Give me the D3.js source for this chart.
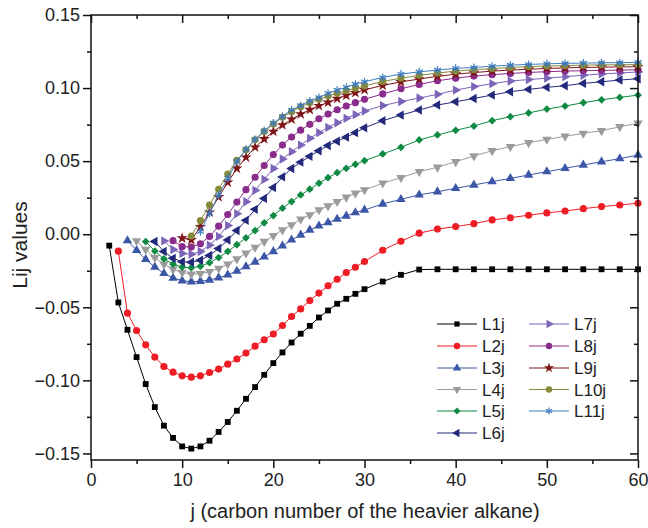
<!DOCTYPE html>
<html lang="en">
<head>
<meta charset="UTF-8">
<title>Lij values</title>
<script src="https://d3js.org/d3.v7.min.js"></script>
<style>
  body { margin: 0; background: white; }
  svg { display: block; font-family: 'Liberation Sans', Arial, sans-serif; }
</style>
</head>
<body>
<svg width="648" height="528"></svg>
<script>
// j values (1-step up to 30, then every 2)
const J = [2,3,4,5,6,7,8,9,10,11,12,13,14,15,16,17,18,19,20,21,22,23,24,25,26,27,28,29,30,
           32,34,36,38,40,42,44,46,48,50,52,54,56,58,60];

// each series Lnj starts at j = n+1
const L1 = [-0.0078,-0.0467,-0.0654,-0.0841,-0.1025,-0.1183,-0.1310,-0.1394,-0.1452,-0.1467,-0.1452,-0.1413,-0.1353,-0.1285,-0.1208,-0.1126,-0.1046,-0.0962,-0.0882,-0.0809,-0.0741,-0.0681,-0.0627,-0.0570,-0.0522,-0.0476,-0.0442,-0.0408,-0.0376,
            -0.0324,-0.0278,-0.0242,-0.0240,-0.0240,-0.0240,-0.0240,-0.0240,-0.0240,-0.0240,-0.0240,-0.0240,-0.0240,-0.0240,-0.0240];
const L2 = [-0.0116,-0.0540,-0.0659,-0.0757,-0.0841,-0.0905,-0.0944,-0.0969,-0.0978,-0.0969,-0.0946,-0.0923,-0.0889,-0.0854,-0.0813,-0.0766,-0.0722,-0.0683,-0.0625,-0.0563,-0.0511,-0.0454,-0.0403,-0.0353,-0.0308,-0.0262,-0.0226,-0.0187,
            -0.0110,-0.0048,0.0007,0.0035,0.0052,0.0072,0.0098,0.0113,0.0130,0.0146,0.0159,0.0175,0.0189,0.0200,0.0212];
const L3 = [-0.0044,-0.0110,-0.0172,-0.0225,-0.0268,-0.0300,-0.0318,-0.0325,-0.0322,-0.0313,-0.0298,-0.0278,-0.0252,-0.0222,-0.0190,-0.0155,-0.0118,-0.0080,-0.0039,-0.0005,0.0029,0.0057,0.0079,0.0103,0.0125,0.0148,0.0166,
            0.0207,0.0239,0.0269,0.0291,0.0314,0.0337,0.0360,0.0382,0.0405,0.0428,0.0451,0.0474,0.0496,0.0517,0.0542];
const L4 = [-0.0046,-0.0105,-0.0160,-0.0205,-0.0240,-0.0262,-0.0273,-0.0270,-0.0256,-0.0234,-0.0205,-0.0170,-0.0130,-0.0090,-0.0050,-0.0010,0.0029,0.0064,0.0103,0.0132,0.0166,0.0193,0.0223,0.0253,0.0280,0.0303,
            0.0349,0.0387,0.0428,0.0458,0.0496,0.0535,0.0571,0.0599,0.0626,0.0649,0.0670,0.0690,0.0708,0.0735,0.0759];
const L5 = [-0.0050,-0.0115,-0.0168,-0.0205,-0.0225,-0.0230,-0.0220,-0.0195,-0.0160,-0.0118,-0.0072,-0.0025,0.0025,0.0078,0.0128,0.0178,0.0223,0.0269,0.0308,0.0349,0.0387,0.0421,0.0451,0.0478,0.0503,
            0.0549,0.0595,0.0645,0.0679,0.0711,0.0740,0.0777,0.0804,0.0830,0.0856,0.0877,0.0900,0.0920,0.0936,0.0952];
const L6 = [-0.0050,-0.0118,-0.0165,-0.0188,-0.0192,-0.0178,-0.0145,-0.0098,-0.0040,0.0025,0.0095,0.0170,0.0245,0.0320,0.0392,0.0450,0.0493,0.0533,0.0571,0.0607,0.0636,0.0664,0.0695,0.0728,
            0.0777,0.0815,0.0850,0.0884,0.0906,0.0929,0.0952,0.0975,0.0991,0.1005,0.1016,0.1032,0.1043,0.1055,0.1064];
const L7 = [-0.0046,-0.0105,-0.0132,-0.0137,-0.0118,-0.0075,-0.0015,0.0060,0.0140,0.0222,0.0300,0.0375,0.0450,0.0515,0.0565,0.0610,0.0656,0.0695,0.0731,0.0763,0.0793,0.0818,0.0843,
            0.0880,0.0908,0.0932,0.0957,0.0986,0.1010,0.1030,0.1048,0.1058,0.1068,0.1078,0.1088,0.1097,0.1103,0.1110];
const L8 = [-0.0044,-0.0085,-0.0088,-0.0065,-0.0015,0.0055,0.0135,0.0220,0.0305,0.0390,0.0470,0.0545,0.0610,0.0665,0.0712,0.0752,0.0790,0.0822,0.0852,0.0877,0.0900,0.0923,
            0.0960,0.0995,0.1025,0.1050,0.1068,0.1082,0.1092,0.1100,0.1107,0.1112,0.1116,0.1119,0.1121,0.1123,0.1125];
const L9 = [-0.0027,-0.0039,0.0050,0.0150,0.0255,0.0355,0.0450,0.0526,0.0595,0.0652,0.0703,0.0747,0.0786,0.0822,0.0852,0.0879,0.0902,0.0928,0.0950,0.0968,0.0988,
            0.1018,0.1042,0.1062,0.1080,0.1095,0.1106,0.1116,0.1123,0.1129,0.1134,0.1138,0.1141,0.1143,0.1145,0.1146];
const L10 = [-0.0012,0.0093,0.0200,0.0308,0.0412,0.0505,0.0578,0.0646,0.0702,0.0754,0.0800,0.0838,0.0872,0.0900,0.0923,0.0945,0.0964,0.0982,0.0998,0.1014,
             0.1045,0.1068,0.1087,0.1103,0.1116,0.1126,0.1134,0.1141,0.1147,0.1151,0.1154,0.1157,0.1159,0.1160,0.1161];
const L11 = [0.0018,0.0143,0.0269,0.0383,0.0498,0.0581,0.0649,0.0708,0.0761,0.0806,0.0850,0.0880,0.0912,0.0935,0.0964,0.0986,0.1006,0.1027,0.1043,
             0.1073,0.1096,0.1111,0.1123,0.1135,0.1141,0.1150,0.1157,0.1162,0.1166,0.1169,0.1171,0.1173,0.1174,0.1176];

const names = ["L1j","L2j","L3j","L4j","L5j","L6j","L7j","L8j","L9j","L10j","L11j"];
const colors = ["#000000","#ee1c25","#3b56a6","#9b9b9b","#0f8a43","#232a7c","#7c64b8","#8a2c8c","#7f1518","#878a3a","#3d7cc0"];
// marker: d3 symbol type and rotation
const marks = [
  {type: d3.symbolSquare, rot: 0, size: 34},
  {type: d3.symbolCircle, rot: 0, size: 40},
  {type: d3.symbolTriangle, rot: 0, size: 38},
  {type: d3.symbolTriangle, rot: 180, size: 38},
  {type: d3.symbolSquare, rot: 45, size: 30},
  {type: d3.symbolTriangle, rot: -90, size: 38},
  {type: d3.symbolTriangle, rot: 90, size: 38},
  {type: d3.symbolCircle, rot: 0, size: 40},
  {type: d3.symbolStar, rot: 0, size: 40},
  {type: d3.symbolCircle, rot: 0, size: 40},
  {type: d3.symbolAsterisk || d3.symbolCross, rot: 0, size: 44, stroke: true}
];
const allSeries = [L1,L2,L3,L4,L5,L6,L7,L8,L9,L10,L11];

const svg = d3.select("svg");
const x = d3.scaleLinear().domain([0, 60]).range([91, 638]);
const y = d3.scaleLinear().domain([-0.1545, 0.15]).range([460, 15]);

// series lines and markers
allSeries.forEach((vals, i) => {
  const pts = vals.map((v, k) => ({j: J[k + i], v: v}));
  svg.append("path")
    .datum(pts)
    .attr("fill", "none")
    .attr("stroke", colors[i])
    .attr("stroke-width", 1)
    .attr("d", d3.line().x(d => x(d.j)).y(d => y(d.v)));

  const m = marks[i];
  svg.append("g").selectAll("path")
    .data(pts)
    .join("path")
    .attr("transform", d => `translate(${x(d.j)},${y(d.v)}) rotate(${m.rot})`)
    .attr("d", d3.symbol(m.type, m.size))
    .attr("fill", m.stroke ? "none" : colors[i])
    .attr("stroke", m.stroke ? colors[i] : "none")
    .attr("stroke-width", 1.2);
});

// axes: left/bottom ticks outward, top/right ticks inward
const xMajor = [0,10,20,30,40,50,60];
const xMinor = [5,15,25,35,45,55];
const yMajor = [-0.15,-0.10,-0.05,0.00,0.05,0.10,0.15];
const yMinor = [-0.125,-0.075,-0.025,0.025,0.075,0.125];

svg.append("g")
  .attr("transform", "translate(0,460)")
  .call(d3.axisBottom(x).tickValues(xMajor).tickFormat(d3.format("d")).tickSize(8).tickPadding(5));
svg.append("g")
  .attr("transform", "translate(0,460)")
  .call(d3.axisBottom(x).tickValues(xMinor).tickFormat("").tickSize(4));
svg.append("g")
  .attr("transform", "translate(0,15)")
  .call(d3.axisBottom(x).tickValues(xMajor).tickFormat("").tickSize(8));
svg.append("g")
  .attr("transform", "translate(0,15)")
  .call(d3.axisBottom(x).tickValues(xMinor).tickFormat("").tickSize(4));

svg.append("g")
  .attr("transform", "translate(91,0)")
  .call(d3.axisLeft(y).tickValues(yMajor).tickFormat(d3.format(".2f")).tickSize(8).tickPadding(3));
svg.append("g")
  .attr("transform", "translate(91,0)")
  .call(d3.axisLeft(y).tickValues(yMinor).tickFormat("").tickSize(4));
svg.append("g")
  .attr("transform", "translate(638,0)")
  .call(d3.axisLeft(y).tickValues(yMajor).tickFormat("").tickSize(8));
svg.append("g")
  .attr("transform", "translate(638,0)")
  .call(d3.axisLeft(y).tickValues(yMinor).tickFormat("").tickSize(4));

svg.selectAll(".domain").remove();
svg.selectAll(".tick line").attr("stroke", "#111").attr("stroke-width", 1.5);
svg.selectAll(".tick text")
  .attr("font-family", "'Liberation Sans', Arial, sans-serif")
  .attr("font-size", 18).attr("fill", "#222");

// frame
svg.append("rect")
  .attr("x", 91).attr("y", 15).attr("width", 547).attr("height", 445)
  .attr("fill", "none").attr("stroke", "#111").attr("stroke-width", 1.5);

// axis titles
svg.append("text")
  .attr("x", 365).attr("y", 518)
  .attr("text-anchor", "middle")
  .attr("font-size", 20).attr("fill", "#222")
  .text("j (carbon number of the heavier alkane)");
svg.append("text")
  .attr("transform", "translate(27,245) rotate(-90)")
  .attr("text-anchor", "middle")
  .attr("font-size", 21).attr("fill", "#222")
  .text("Lij values");

// legend
const legRows = [324, 346, 368, 389.5, 411, 433];
const legend = svg.append("g");
names.forEach((n, i) => {
  const col = i < 6 ? 0 : 1;
  const row = i < 6 ? i : i - 6;
  const lx = col === 0 ? 437 : 529;
  const ly = legRows[row];
  legend.append("line")
    .attr("x1", lx).attr("x2", lx + 40).attr("y1", ly).attr("y2", ly)
    .attr("stroke", colors[i]).attr("stroke-width", 1);
  const m = marks[i];
  legend.append("path")
    .attr("transform", `translate(${lx + 20},${ly}) rotate(${m.rot})`)
    .attr("d", d3.symbol(m.type, m.size * 0.8))
    .attr("fill", m.stroke ? "none" : colors[i])
    .attr("stroke", m.stroke ? colors[i] : "none")
    .attr("stroke-width", 1.2);
  legend.append("text")
    .attr("x", lx + 45).attr("y", ly + 6)
    .attr("font-size", 17).attr("fill", "#222")
    .text(n);
});
</script>
</body>
</html>
